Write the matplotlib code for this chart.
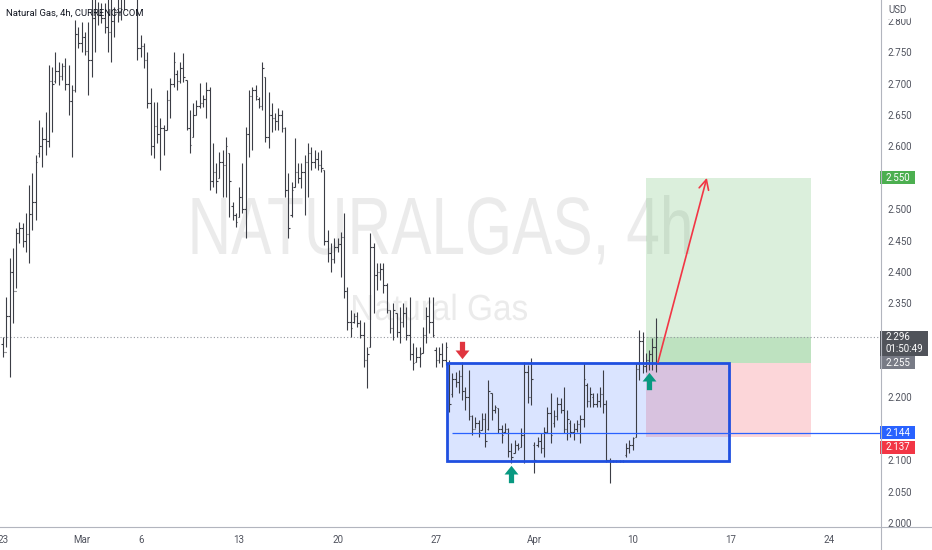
import matplotlib
matplotlib.use("Agg")
import matplotlib.pyplot as plt
from matplotlib.patches import Rectangle, PathPatch
from matplotlib.path import Path
from matplotlib.lines import Line2D
from matplotlib.textpath import TextPath
from matplotlib.font_manager import FontProperties
from matplotlib.transforms import blended_transform_factory, offset_copy, Affine2D
import numpy as np

plt.rcParams['font.family'] = ['Roboto', 'DejaVu Sans']

# Natural Gas 4h bars (CURRENCYCOM), Feb 23 -> Apr 11
opens = [2.285, 2.272, 2.330, 2.400, 2.370, 2.462, 2.470, 2.450, 2.460, 2.492,
         2.512, 2.590, 2.600, 2.612, 2.608, 2.705, 2.705, 2.720, 2.712, 2.728,
         2.700, 2.672, 2.690, 2.780, 2.765, 2.775, 2.752, 2.738, 2.805, 2.815,
         2.810, 2.805, 2.790, 2.782, 2.800, 2.815, 2.820, 2.845, 2.870, 2.885,
         2.860, 2.845, 2.757, 2.760, 2.738, 2.670, 2.600, 2.633, 2.620, 2.629,
         2.626, 2.674, 2.700, 2.715, 2.705, 2.725, 2.706, 2.630, 2.615, 2.650,
         2.665, 2.670, 2.675, 2.690, 2.545, 2.560, 2.550, 2.575, 2.570, 2.590,
         2.505, 2.490, 2.488, 2.520, 2.500, 2.620, 2.680, 2.690, 2.675, 2.665,
         2.711, 2.615, 2.650, 2.645, 2.640, 2.650, 2.630, 2.530, 2.490, 2.535,
         2.560, 2.550, 2.560, 2.575, 2.590, 2.575, 2.580, 2.570, 2.562, 2.450,
         2.430, 2.420, 2.440, 2.445, 2.455, 2.370, 2.320, 2.320, 2.330, 2.318,
         2.300, 2.260, 2.280, 2.440, 2.395, 2.400, 2.405, 2.380, 2.339, 2.310,
         2.335, 2.305, 2.320, 2.335, 2.300, 2.270, 2.257, 2.265, 2.271, 2.300,
         2.330, 2.320, 2.275, 2.260, 2.270, 2.260, 2.255, 2.205, 2.230, 2.225,
         2.235, 2.210, 2.200, 2.170, 2.150, 2.160, 2.148, 2.165, 2.150, 2.207,
         2.180, 2.183, 2.150, 2.145, 2.150, 2.115, 2.112, 2.125, 2.121, 2.140,
         2.240, 2.200, 2.125, 2.125, 2.130, 2.120, 2.145, 2.175, 2.160, 2.170,
         2.190, 2.180, 2.150, 2.160, 2.145, 2.150, 2.158, 2.165, 2.220, 2.195,
         2.200, 2.190, 2.195, 2.205, 2.190, 2.100, 2.098, 2.099, 2.098, 2.099,
         2.108, 2.120, 2.125, 2.137, 2.245, 2.290, 2.250, 2.260, 2.270, 2.280]
highs = [2.296, 2.360, 2.422, 2.438, 2.470, 2.480, 2.478, 2.494, 2.539, 2.558,
         2.586, 2.642, 2.631, 2.655, 2.730, 2.727, 2.751, 2.735, 2.733, 2.741,
         2.730, 2.698, 2.801, 2.790, 2.798, 2.782, 2.798, 2.845, 2.850, 2.830,
         2.829, 2.829, 2.850, 2.855, 2.822, 2.845, 2.860, 2.880, 2.900, 2.915,
         2.890, 2.850, 2.778, 2.765, 2.751, 2.693, 2.671, 2.671, 2.645, 2.634,
         2.690, 2.709, 2.751, 2.722, 2.735, 2.749, 2.706, 2.658, 2.669, 2.674,
         2.701, 2.682, 2.703, 2.695, 2.605, 2.574, 2.591, 2.594, 2.615, 2.590,
         2.511, 2.494, 2.535, 2.574, 2.631, 2.690, 2.695, 2.698, 2.679, 2.735,
         2.711, 2.687, 2.669, 2.653, 2.661, 2.658, 2.631, 2.558, 2.543, 2.613,
         2.574, 2.574, 2.586, 2.605, 2.599, 2.594, 2.591, 2.594, 2.562, 2.467,
         2.446, 2.454, 2.454, 2.464, 2.494, 2.376, 2.339, 2.335, 2.336, 2.323,
         2.320, 2.280, 2.462, 2.446, 2.414, 2.414, 2.414, 2.382, 2.339, 2.351,
         2.335, 2.344, 2.351, 2.344, 2.360, 2.287, 2.280, 2.280, 2.312, 2.344,
         2.360, 2.360, 2.280, 2.280, 2.287, 2.288, 2.260, 2.239, 2.241, 2.244,
         2.257, 2.217, 2.244, 2.172, 2.169, 2.164, 2.175, 2.175, 2.228, 2.207,
         2.188, 2.183, 2.156, 2.159, 2.151, 2.127, 2.132, 2.127, 2.151, 2.257,
         2.252, 2.263, 2.129, 2.137, 2.143, 2.153, 2.185, 2.207, 2.180, 2.201,
         2.199, 2.217, 2.180, 2.164, 2.159, 2.164, 2.172, 2.255, 2.223, 2.217,
         2.207, 2.207, 2.217, 2.244, 2.196, 2.104, 2.100, 2.100, 2.100, 2.100,
         2.127, 2.132, 2.137, 2.255, 2.308, 2.304, 2.271, 2.276, 2.295, 2.327]
lows = [2.265, 2.280, 2.233, 2.319, 2.374, 2.446, 2.440, 2.432, 2.414, 2.467,
        2.483, 2.583, 2.567, 2.586, 2.599, 2.623, 2.701, 2.698, 2.706, 2.690,
        2.650, 2.583, 2.687, 2.757, 2.751, 2.746, 2.682, 2.711, 2.751, 2.794,
        2.797, 2.781, 2.751, 2.735, 2.774, 2.798, 2.801, 2.817, 2.840, 2.850,
        2.840, 2.738, 2.743, 2.725, 2.661, 2.586, 2.582, 2.605, 2.562, 2.586,
        2.626, 2.645, 2.695, 2.690, 2.701, 2.703, 2.626, 2.590, 2.615, 2.650,
        2.661, 2.663, 2.645, 2.531, 2.535, 2.526, 2.550, 2.519, 2.519, 2.488,
        2.483, 2.472, 2.488, 2.494, 2.454, 2.583, 2.594, 2.674, 2.661, 2.658,
        2.607, 2.598, 2.623, 2.626, 2.626, 2.623, 2.519, 2.454, 2.488, 2.535,
        2.542, 2.534, 2.491, 2.519, 2.562, 2.566, 2.562, 2.559, 2.443, 2.416,
        2.400, 2.414, 2.432, 2.392, 2.358, 2.308, 2.296, 2.319, 2.312, 2.295,
        2.249, 2.215, 2.280, 2.335, 2.371, 2.387, 2.366, 2.335, 2.303, 2.292,
        2.296, 2.287, 2.312, 2.292, 2.260, 2.244, 2.257, 2.249, 2.271, 2.287,
        2.303, 2.296, 2.249, 2.255, 2.249, 2.252, 2.177, 2.201, 2.217, 2.207,
        2.196, 2.180, 2.164, 2.140, 2.151, 2.137, 2.148, 2.121, 2.148, 2.164,
        2.175, 2.143, 2.127, 2.143, 2.105, 2.096, 2.112, 2.116, 2.121, 2.096,
        2.191, 2.188, 2.080, 2.121, 2.112, 2.105, 2.143, 2.127, 2.153, 2.164,
        2.175, 2.143, 2.132, 2.137, 2.132, 2.145, 2.127, 2.153, 2.185, 2.185,
        2.185, 2.185, 2.185, 2.175, 2.097, 2.064, 2.097, 2.097, 2.097, 2.097,
        2.105, 2.112, 2.116, 2.137, 2.228, 2.239, 2.241, 2.244, 2.244, 2.241]
closes = [2.272, 2.330, 2.400, 2.370, 2.462, 2.470, 2.450, 2.460, 2.492, 2.512,
          2.575, 2.600, 2.612, 2.608, 2.705, 2.700, 2.720, 2.712, 2.728, 2.700,
          2.672, 2.690, 2.780, 2.765, 2.775, 2.752, 2.738, 2.805, 2.815, 2.810,
          2.805, 2.790, 2.782, 2.800, 2.815, 2.820, 2.845, 2.870, 2.885, 2.860,
          2.845, 2.757, 2.760, 2.738, 2.670, 2.600, 2.633, 2.620, 2.629, 2.626,
          2.674, 2.700, 2.735, 2.705, 2.725, 2.710, 2.630, 2.602, 2.650, 2.665,
          2.670, 2.675, 2.690, 2.545, 2.560, 2.545, 2.575, 2.570, 2.600, 2.545,
          2.490, 2.480, 2.520, 2.500, 2.620, 2.680, 2.690, 2.680, 2.665, 2.725,
          2.615, 2.650, 2.645, 2.640, 2.650, 2.630, 2.530, 2.470, 2.530, 2.560,
          2.550, 2.560, 2.575, 2.590, 2.575, 2.580, 2.570, 2.565, 2.450, 2.430,
          2.420, 2.440, 2.445, 2.455, 2.370, 2.320, 2.310, 2.330, 2.318, 2.300,
          2.260, 2.270, 2.440, 2.395, 2.400, 2.405, 2.380, 2.340, 2.310, 2.340,
          2.305, 2.320, 2.335, 2.300, 2.270, 2.255, 2.265, 2.270, 2.300, 2.330,
          2.320, 2.300, 2.260, 2.270, 2.260, 2.280, 2.190, 2.230, 2.225, 2.235,
          2.210, 2.200, 2.170, 2.150, 2.160, 2.145, 2.165, 2.130, 2.210, 2.180,
          2.185, 2.150, 2.140, 2.150, 2.115, 2.105, 2.125, 2.120, 2.140, 2.240,
          2.200, 2.230, 2.100, 2.130, 2.120, 2.145, 2.175, 2.140, 2.170, 2.190,
          2.180, 2.150, 2.165, 2.145, 2.150, 2.158, 2.165, 2.230, 2.195, 2.205,
          2.190, 2.195, 2.205, 2.190, 2.100, 2.098, 2.099, 2.098, 2.099, 2.099,
          2.120, 2.125, 2.135, 2.245, 2.290, 2.250, 2.260, 2.270, 2.280, 2.296]

# time axis: bar index of the first bar of each labelled day
date_ticks = [0, 24, 42, 72, 102, 132, 162, 192, 222, 252]
date_labels = ['23', 'Mar', '6', '13', '20', '27', 'Apr', '10', '17', '24']
price_ticks = np.arange(2.0, 2.8001, 0.05)

last_price = 2.296
countdown = "01:50:49"
entry_price = 2.255
target_price = 2.550
stop_price = 2.137
range_high = 2.255
range_low = 2.098
support_price = 2.144

# drawings (bar index / price)
range_x = (135.5, 221.5)
support_from = 137
position_x = (196, 246.5)
arrow_from = (199.7, 2.256)
arrow_to = (214.6, 2.550)
sell_mark_bar = 140
buy_mark_bars = [155, 197]

W, H = 932, 550
PW, PH = 881, 527
fig = plt.figure(figsize=(W / 100, H / 100), dpi=100)
fig.patch.set_facecolor('white')
ax = fig.add_axes([0, (H - PH) / H, PW / W, PH / H])
ax.set_xlim(-0.9, 267.7)
ax.set_ylim(1.9936, 2.8334)
for s in ax.spines.values():
    s.set_visible(False)

# watermark (symbol + description), fitted to the reference box
px_axes = Affine2D().scale(1 / PW, 1 / PH) + ax.transAxes


def watermark(text, cx, baseline, width, cap, color='#ebebeb'):
    fp = FontProperties(family='Liberation Sans')
    tp = TextPath((0, 0), text, size=100, prop=fp)
    cap_h = TextPath((0, 0), 'N', size=100, prop=fp).get_extents().height
    ext = tp.get_extents()
    t = (Affine2D().translate(-(ext.x0 + ext.width / 2), 0)
         .scale(width / ext.width, cap / cap_h)
         .translate(cx, PH - baseline))
    ax.add_patch(PathPatch(t.transform_path(tp), transform=px_axes,
                           facecolor=color, edgecolor='none', zorder=0))


watermark("NATURALGAS, 4h", 441, 254, 497, 56)
watermark("Natural Gas", 440, 320, 174, 25)

# OHLC bars
idx = np.arange(len(opens))
bar_col = '#3b3d45'
ax.vlines(idx, lows, highs, color=bar_col, lw=0.8, zorder=3)
ax.hlines(opens, idx - 0.45, idx, color=bar_col, lw=0.8, zorder=3)
ax.hlines(closes, idx, idx + 0.45, color=bar_col, lw=0.8, zorder=3)

# last price dotted line
ax.axhline(last_price, color='#9598a1', lw=0.8, ls=(0, (1, 2)), zorder=2)

# long position tool
pw = position_x[1] - position_x[0]
green = (76 / 255, 175 / 255, 80 / 255, 0.2)
red = (242 / 255, 54 / 255, 69 / 255, 0.2)
ax.add_patch(Rectangle((position_x[0], entry_price), pw, target_price - entry_price,
                       facecolor=green, edgecolor='none', zorder=1))
ax.add_patch(Rectangle((position_x[0], entry_price), pw, last_price - entry_price,
                       facecolor=green, edgecolor='none', zorder=1))
ax.add_patch(Rectangle((position_x[0], stop_price), pw, entry_price - stop_price,
                       facecolor=red, edgecolor='none', zorder=1))

# consolidation box
ax.add_patch(Rectangle((range_x[0], range_low), range_x[1] - range_x[0],
                       range_high - range_low,
                       facecolor=(41 / 255, 98 / 255, 1, 0.17), edgecolor='none', zorder=1.5))
ax.add_patch(Rectangle((range_x[0], range_low), range_x[1] - range_x[0],
                       range_high - range_low,
                       facecolor='none', edgecolor='#1f4fe0', lw=2.0, zorder=4))
ax.hlines(support_price, support_from, ax.get_xlim()[1], color='#2962ff', lw=0.9, zorder=4)

# projected move
ax.annotate('', xy=arrow_to, xytext=arrow_from,
            arrowprops=dict(arrowstyle='->,head_length=0.7,head_width=0.35',
                            color='#f23645', lw=1.2, shrinkA=0, shrinkB=0), zorder=5)

# block arrows
up = Path([(-0.3, -1), (0.3, -1), (0.3, 0), (0.8, 0), (0, 1), (-0.8, 0), (-0.3, 0), (-0.3, -1)],
          [Path.MOVETO] + [Path.LINETO] * 6 + [Path.CLOSEPOLY])
down = Path(up.vertices * [1, -1], up.codes)
tr_up = offset_copy(ax.transData, fig=fig, y=8.3, units='points')
tr_dn = offset_copy(ax.transData, fig=fig, y=-8.3, units='points')
ax.plot([sell_mark_bar], [highs[sell_mark_bar]], marker=down, ms=12.5, color='#e0353f',
        mec='none', transform=tr_up, zorder=6)
for b in buy_mark_bars:
    ax.plot([b], [lows[b]], marker=up, ms=12.5, color='#089981', mec='none',
            transform=tr_dn, zorder=6)

# price badges on the scale: (price, text, colour, width px, height px, shift px)
badges = [(target_price, f"{target_price:.3f}", '#4caf50', 35, 13, 0),
          (last_price, f"{last_price:.3f}\n{countdown}", '#50535a', 48, 25, 6),
          (entry_price, f"{entry_price:.3f}", '#787b86', 35, 13, 0),
          (support_price, f"{support_price:.3f}", '#2962ff', 35, 13, 0),
          (stop_price, f"{stop_price:.3f}", '#f23645', 35, 13, 10)]

unit = (ax.get_ylim()[1] - ax.get_ylim()[0]) / PH
btr = blended_transform_factory(ax.transAxes, ax.transData)
covered = []
for price, text, bg, w_px, h_px, dy_px in badges:
    yc = price - dy_px * unit
    covered.append((yc - (h_px / 2 + 4) * unit, yc + (h_px / 2 + 4) * unit))
    ax.add_patch(Rectangle((1 - 1 / PW, yc - h_px / 2 * unit), w_px / PW, h_px * unit,
                           transform=btr, facecolor=bg, edgecolor='none',
                           clip_on=False, zorder=6))
    ax.text(1 + 5 / PW, yc, text, transform=btr, ha='left', va='center',
            color='white', fontsize=7, linespacing=1.25, clip_on=False, zorder=7)

# axes ticks (scale labels hidden where a badge sits on top of them)
ax.yaxis.tick_right()
ax.set_yticks(price_ticks)
ax.set_yticklabels(["" if any(lo < p < hi for lo, hi in covered) else f"{p:.3f}"
                    for p in price_ticks])
ax.tick_params(axis='y', length=0, pad=5, labelsize=7, labelcolor='#50535e')
ax.set_xticks(date_ticks)
ax.set_xticklabels(date_labels)
ax.tick_params(axis='x', length=0, pad=6, labelsize=7, labelcolor='#50535e')

fig.add_artist(Line2D([PW / W, PW / W], [0, 1], transform=fig.transFigure,
                      color='#b2b5be', lw=0.8))
fig.add_artist(Line2D([0, 1], [(H - PH) / H] * 2, transform=fig.transFigure,
                      color='#b2b5be', lw=0.8))

fig.text(888 / W, 1 - 10 / H, "USD", fontsize=7, color='#50535e', va='center',
         bbox=dict(facecolor='white', edgecolor='none', pad=2.5))
fig.text(6 / W, 1 - 13 / H, "Natural Gas, 4h, CURRENCYCOM", fontsize=6.8,
         color='#131722', va='center')

fig.savefig('out.png', dpi=100)
